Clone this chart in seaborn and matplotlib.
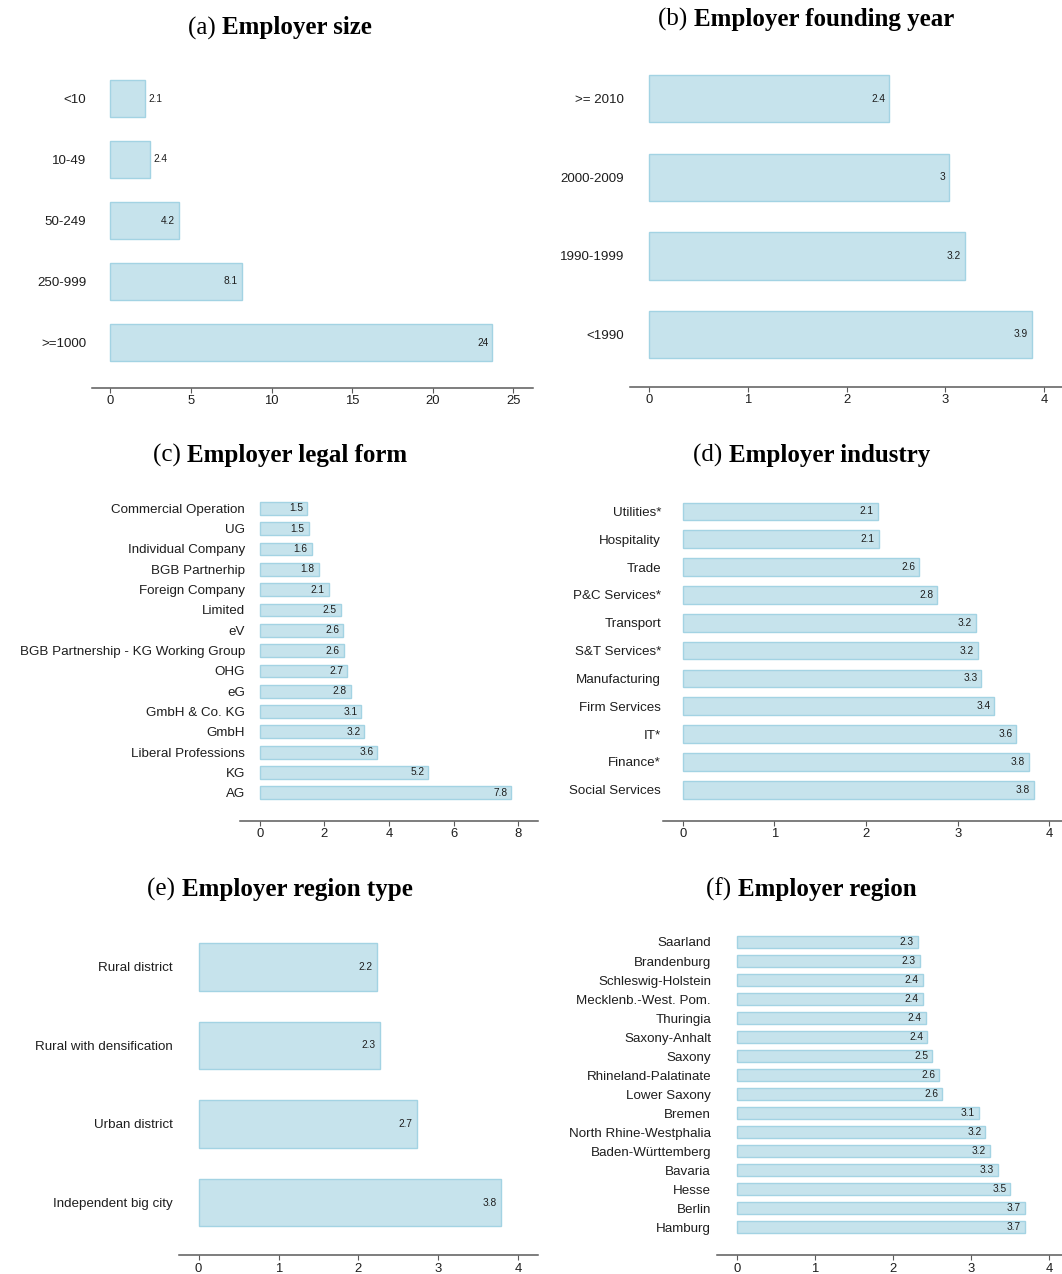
import matplotlib
matplotlib.use("Agg")
import matplotlib.pyplot as plt
import pandas as pd
import seaborn as sns

# ---- data -------------------------------------------------------------
size_labels = ["<10", "10-49", "50-249", "250-999", ">=1000"]
size_values = [2.14, 2.44, 4.24, 8.14, 23.7]

founding_labels = [">= 2010", "2000-2009", "1990-1999", "<1990"]
founding_values = [2.43, 3.04, 3.20, 3.88]

legal_labels = ["Commercial Operation", "UG", "Individual Company", "BGB Partnerhip",
                "Foreign Company", "Limited", "eV", "BGB Partnership - KG Working Group",
                "OHG", "eG", "GmbH & Co. KG", "GmbH", "Liberal Professions", "KG", "AG"]
legal_values = [1.46, 1.51, 1.61, 1.82, 2.14, 2.51, 2.59, 2.60, 2.70, 2.82,
                3.14, 3.24, 3.64, 5.22, 7.78]

industry_labels = ["Utilities*", "Hospitality", "Trade", "P&C Services*", "Transport",
                   "S&T Services*", "Manufacturing", "Firm Services", "IT*", "Finance*",
                   "Social Services"]
industry_values = [2.13, 2.14, 2.58, 2.78, 3.20, 3.22, 3.26, 3.40, 3.64, 3.78, 3.83]

regiontype_labels = ["Rural district", "Rural with densification", "Urban district",
                     "Independent big city"]
regiontype_values = [2.23, 2.27, 2.73, 3.78]

region_labels = ["Saarland", "Brandenburg", "Schleswig-Holstein", "Mecklenb.-West. Pom.",
                 "Thuringia", "Saxony-Anhalt", "Saxony", "Rhineland-Palatinate",
                 "Lower Saxony", "Bremen", "North Rhine-Westphalia", "Baden-Württemberg",
                 "Bavaria", "Hesse", "Berlin", "Hamburg"]
region_values = [2.32, 2.34, 2.38, 2.38, 2.42, 2.44, 2.50, 2.59, 2.63, 3.10, 3.18,
                 3.24, 3.34, 3.50, 3.69, 3.69]

# ---- panel layout (pixel geometry of a 1062 x 1274 canvas) -------------
W, H, DPI = 1062, 1274, 100
PX = 72.0 / DPI  # points per pixel

# L/R: ends of the x-axis line, X0/XT: pixel of 0 and of the last tick,
# B: x-axis line height, C0/Cn: first/last bar centre, bh: bar thickness,
# LBL: right edge of the category labels, tcx/tby: title centre and baseline
panels = [
    dict(tag="(a)", title="Employer size", labels=size_labels, values=size_values,
         ticks=[0, 5, 10, 15, 20, 25],
         L=91.7, R=532.7, X0=110.3, XT=513.3, B=387.5, C0=98.5, Cn=342.5, bh=37.0,
         LBL=86.2, tcx=280.0, tby=34.3),
    dict(tag="(b)", title="Employer founding year", labels=founding_labels,
         values=founding_values, ticks=[0, 1, 2, 3, 4],
         L=630.3, R=1062.0, X0=649.3, XT=1044.0, B=386.7, C0=98.7, Cn=334.5, bh=47.5,
         LBL=624.0, tcx=806.0, tby=26.0),
    dict(tag="(c)", title="Employer legal form", labels=legal_labels, values=legal_values,
         ticks=[0, 2, 4, 6, 8],
         L=240.3, R=537.7, X0=259.7, XT=518.3, B=820.7, C0=508.3, Cn=792.8, bh=12.7,
         LBL=244.8, tcx=280.0, tby=461.7),
    dict(tag="(d)", title="Employer industry", labels=industry_labels,
         values=industry_values, ticks=[0, 1, 2, 3, 4],
         L=663.3, R=1062.0, X0=682.7, XT=1049.3, B=820.7, C0=511.5, Cn=789.8, bh=17.7,
         LBL=661.0, tcx=811.7, tby=461.7),
    dict(tag="(e)", title="Employer region type", labels=regiontype_labels,
         values=regiontype_values, ticks=[0, 1, 2, 3, 4],
         L=179.3, R=537.7, X0=198.6, XT=518.3, B=1255.0, C0=966.8, Cn=1202.5, bh=47.7,
         LBL=173.1, tcx=280.0, tby=895.7),
    dict(tag="(f)", title="Employer region", labels=region_labels, values=region_values,
         ticks=[0, 1, 2, 3, 4],
         L=717.3, R=1062.0, X0=736.7, XT=1049.3, B=1255.0, C0=942.0, Cn=1227.3, bh=12.3,
         LBL=711.0, tcx=811.5, tby=895.7),
]

BAR_FILL = "#c6e3ec"
BAR_EDGE = "#a3d3e3"
AXIS_GRAY = "#5a5a5a"
TEXT = "#1e1e1e"

sns.set_theme(style="white")
plt.rcParams["font.family"] = ["Liberation Sans", "DejaVu Sans"]

fig = plt.figure(figsize=(W / DPI, H / DPI), dpi=DPI)
fig.patch.set_facecolor("white")

for p in panels:
    n = len(p["labels"])
    sp = (p["Cn"] - p["C0"]) / (n - 1)          # pixels between bar centres
    top = p["C0"] - 0.8 * sp
    scale = (p["XT"] - p["X0"]) / p["ticks"][-1]  # pixels per data unit

    ax = fig.add_axes([p["L"] / W, 1 - p["B"] / H,
                       (p["R"] - p["L"]) / W, (p["B"] - top) / H])
    df = pd.DataFrame({"category": p["labels"], "value": p["values"]})
    sns.barplot(data=df, x="value", y="category", orient="h", ax=ax,
                color=BAR_FILL, saturation=1, width=p["bh"] / sp,
                edgecolor=BAR_EDGE, linewidth=1.0)

    ax.set_xlim((p["L"] - p["X0"]) / scale, (p["R"] - p["X0"]) / scale)
    ax.set_ylim((n - 1) + (p["B"] - p["Cn"]) / sp, -(p["C0"] - top) / sp)
    ax.set_xticks(p["ticks"])
    ax.set_xticklabels([str(t) for t in p["ticks"]])
    ax.set_xlabel("")
    ax.set_ylabel("")

    for side in ("top", "right", "left"):
        ax.spines[side].set_visible(False)
    ax.spines["bottom"].set_color(AXIS_GRAY)
    ax.spines["bottom"].set_linewidth(1.1)
    ax.tick_params(axis="x", bottom=True, direction="out", length=5 * PX, width=0.8,
                   color=AXIS_GRAY, labelsize=9.4, labelcolor=TEXT, pad=2)
    ax.tick_params(axis="y", left=False, length=0, labelsize=9.6, labelcolor=TEXT,
                   pad=(p["L"] - p["LBL"]) * PX)
    ax.grid(False)
    ax.set_facecolor("none")

    # value labels: inside the bar end, or just past it for very short bars
    for i, v in enumerate(p["values"]):
        txt = format(v, ".2g")
        if v * scale < 45:
            ax.annotate(txt, xy=(v, i), xytext=(4 * PX, 0), textcoords="offset points",
                        ha="left", va="center", fontsize=7.3, color=TEXT)
        else:
            ax.annotate(txt, xy=(v, i), xytext=(-4 * PX, 0), textcoords="offset points",
                        ha="right", va="center", fontsize=7.3, color=TEXT)

# ---- panel titles: regular tag followed by bold caption -------------------
renderer = fig.canvas.get_renderer()
for p in panels:
    y = 1 - p["tby"] / H
    t1 = fig.text(0, y, p["tag"] + " ", family=["Liberation Serif", "DejaVu Serif"],
                  fontsize=18, va="baseline", ha="left", color="black")
    t2 = fig.text(0, y, p["title"], family=["Liberation Serif", "DejaVu Serif"],
                  fontsize=18, fontweight="bold", va="baseline", ha="left",
                  color="black")
    w1 = t1.get_window_extent(renderer).width
    w2 = t2.get_window_extent(renderer).width
    x0 = p["tcx"] - (w1 + w2) / 2
    t1.set_x(x0 / W)
    t2.set_x((x0 + w1) / W)

fig.savefig("out.png", dpi=DPI, facecolor="white")
